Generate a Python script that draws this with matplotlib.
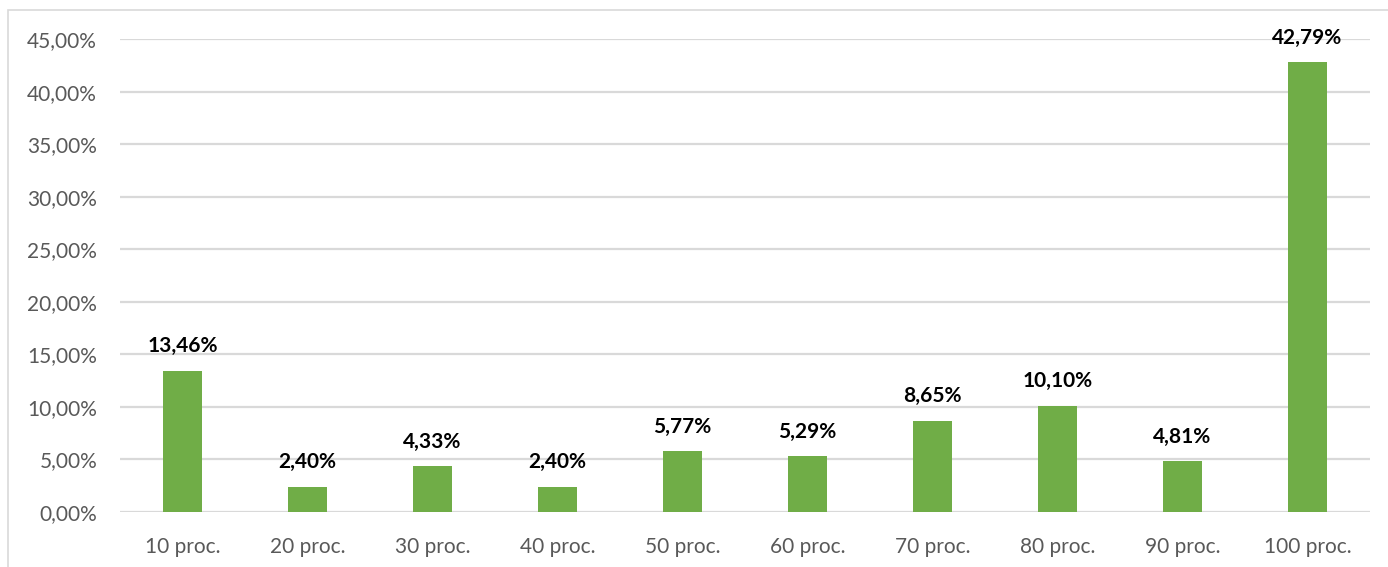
import matplotlib
matplotlib.use('Agg')
import matplotlib.pyplot as plt
from matplotlib.patches import Rectangle

# Dane
categories = ['10 proc.', '20 proc.', '30 proc.', '40 proc.', '50 proc.',
              '60 proc.', '70 proc.', '80 proc.', '90 proc.', '100 proc.']
values = [13.46, 2.40, 4.33, 2.40, 5.77, 5.29, 8.65, 10.10, 4.81, 42.79]
yticks = [0, 5, 10, 15, 20, 25, 30, 35, 40, 45]

plt.rcParams['font.family'] = ['Lato', 'DejaVu Sans']

fig = plt.figure(figsize=(13.88, 5.67), dpi=100)
ax = fig.add_axes([0.0865, 0.097, 0.9005, 0.834])

x = range(len(categories))
ax.bar(x, values, width=0.31, color='#70AD47', zorder=3)

for xi, v in zip(x, values):
    ax.text(xi, v + 1.4, ('%.2f%%' % v).replace('.', ','), ha='center', va='bottom',
            fontsize=15, fontweight='bold', color='black')

ax.set_xlim(-0.5, len(categories) - 0.5)
ax.set_ylim(0, 45)
ax.set_yticks(yticks)
ax.set_yticklabels([('%.2f%%' % t).replace('.', ',') for t in yticks])
ax.set_xticks(list(x))
ax.set_xticklabels(categories)
ax.tick_params(axis='both', length=0, labelsize=15, colors='#595959')
ax.tick_params(axis='y', pad=16.5)
ax.tick_params(axis='x', pad=18)
ax.yaxis.grid(True, color='#D9D9D9', linewidth=1.6, zorder=0)
for s in ax.spines.values():
    s.set_visible(False)
ax.set_clip_on(False)

# ramka wykresu
fig.patches.append(Rectangle((8 / 1388, -0.01), 1.1, 1 - 10 / 567 + 0.01,
                             transform=fig.transFigure, fill=False,
                             edgecolor='#D9D9D9', linewidth=1.2))

fig.savefig('out.png', dpi=100)
